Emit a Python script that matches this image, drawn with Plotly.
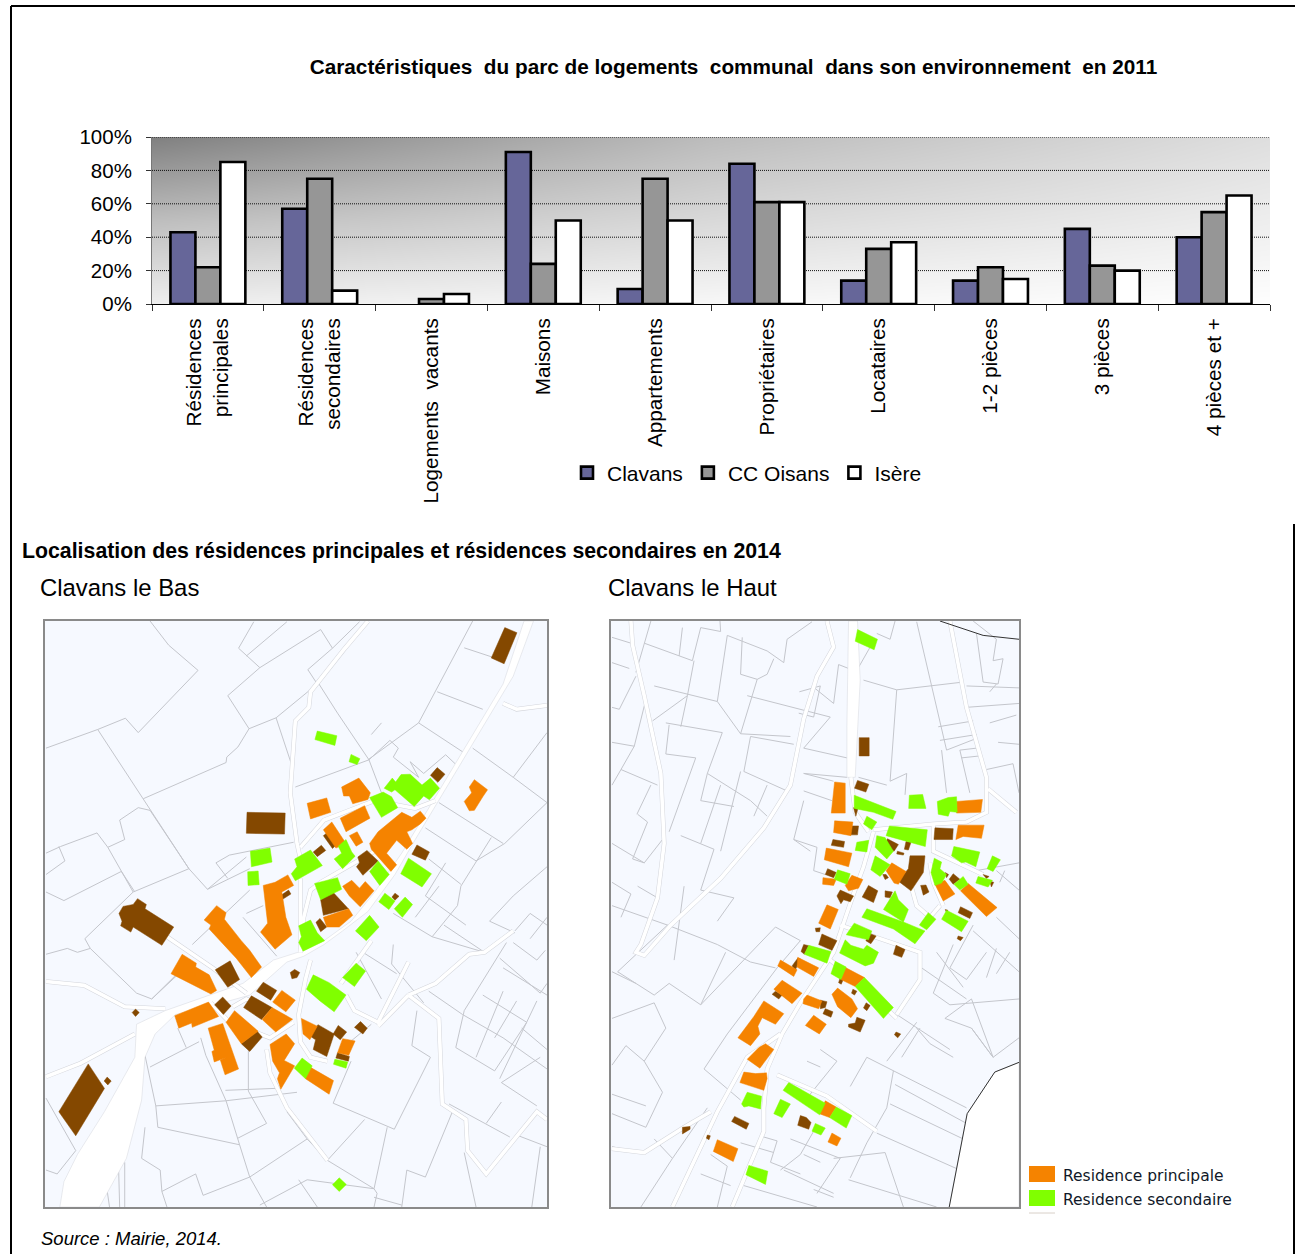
import plotly.graph_objects as go

W, H = 1301, 1254
FONT = "Liberation Sans"

# ---------- bar chart data ----------
categories = ["Résidences<br>principales", "Résidences<br>secondaires", "Logements  vacants", "Maisons",
              "Appartements", "Propriétaires", "Locataires", "1-2 pièces", "3 pièces", "4 pièces et +"]
clavans = [43, 57, None, 91, 9, 84, 14, 14, 45, 40]
cc_oisans = [22, 75, 3, 24, 75, 61, 33, 22, 23, 55]
isere = [85, 8, 6, 50, 50, 61, 37, 15, 20, 65]
grid_values = [20, 40, 60, 80, 100]
grad_gray = [[238, 247, 254], [190, 217, 238], [128, 188, 222]]

# ---------- map data: Clavans le Bas ----------
bas_white = [
    [[88,1535],[100,1470],[140,1400],[220,1290],[310,1150],[315,1065],[400,1030],[440,1018],[630,960],[720,900],[800,878],[870,850],[950,800],[1020,725],[1100,625],[1200,480],[1290,350],[1400,190],[1462,28],[1490,28],[1430,170],[1340,300],[1210,490],[1140,590],[1080,680],[1000,775],[925,825],[870,860],[810,890],[760,905],[650,990],[560,1012],[430,1040],[370,1090],[340,1150],[330,1260],[285,1410],[205,1535]],
]
bas_roads = [
    [[1000,28],[930,100],[830,210],[825,250],[785,285],[775,400],[770,470],[790,600],[800,640]],
    [[405,840],[540,920],[640,985]],
    [[800,690],[800,880]],
    [[830,900],[815,950],[795,1040],[800,1110],[830,1150],[880,1160]],
    [[700,1130],[710,1190],[760,1280],[880,1415]],
    [[1120,905],[1030,1060],[960,1030],[935,990]],
    [[1120,990],[1030,1070]],
    [[1120,990],[1210,1050],[1220,1270],[1290,1310],[1295,1390],[1350,1450],[1500,1290],[1530,1310]],
    [[1120,990],[1200,960],[1300,885],[1345,880],[1430,825]],
    [[47,955],[160,965],[280,1020],[400,1025]],
    [[47,1200],[150,1165],[310,1090]],
    [[1200,490],[1140,510],[1020,490],[870,540],[800,610]],
    [[1040,610],[930,665],[860,700],[830,720],[810,790],[800,880]],
    [[920,960],[1010,850]],
    [[535,1010],[590,1060],[710,1100],[780,1060]],
    [[600,1020],[640,1000],[760,1050]],
    [[1400,240],[1440,255],[1530,245]],
]
bas_parcels = [
    [[355,28],[410,90],[497,155],[320,315],[282,278],[200,307],[47,355]],
    [[200,307],[335,485],[470,665],[525,718],[640,635]],
    [[335,485],[580,392],[582,378],[615,352],[648,305],[585,220],[680,148],[617,98],[662,30]],
    [[648,305],[728,277],[850,190],[822,153],[895,98],[860,50],[680,148]],
    [[640,118],[760,30]], [[728,277],[775,400]], [[895,98],[975,30]],
    [[855,190],[910,265],[1003,385],[1040,470]],
    [[785,455],[1003,385],[1065,335],[1090,355],[1075,378],[1150,430],[1125,390],[1165,420],[1230,372],[1258,395]],
    [[1150,290],[1000,385]], [[1150,290],[1310,28]], [[1150,290],[1290,370]], [[1205,210],[1340,255]], [[1285,97],[1400,130]],
    [[1310,355],[1430,430],[1530,315]], [[1430,430],[1530,495]], [[1170,560],[1320,645],[1405,600],[1530,495]],
    [[1210,495],[1400,600]], [[1365,585],[1275,710],[1265,760],[1190,840],[1075,780]],
    [[1275,705],[1180,640]], [[1360,800],[1430,735],[1530,660]], [[1360,800],[1435,830]],
    [[1480,780],[1530,810]], [[1435,825],[1480,780]], [[1480,845],[1530,790]], [[1430,855],[1500,900],[1525,875]],
    [[1190,840],[1345,880]], [[1225,810],[1345,880]],
    [[1390,895],[1510,985],[1530,960]], [[1400,920],[1530,990]], [[1410,855],[1285,1030],[1260,1125],[1375,1185]],
    [[1180,980],[1280,1040],[1400,1100],[1530,1180]], [[1340,990],[1470,1060],[1375,1185]], [[1400,980],[1320,1150]], [[1440,1005],[1375,1100]], [[1500,1005],[1390,1205]], [[1455,1075],[1530,1130]],
    [[1395,1215],[1510,1150]], [[1395,1215],[1500,1275]], [[1240,1270],[1420,1355]], [[1395,1265],[1350,1320]], [[1530,1380],[1440,1350]], [[1510,1380],[1485,1535]],
    [[1145,1030],[1130,1120],[1185,1150],[1078,1335],[897,1268],[950,1160]],
    [[1057,1330],[1018,1488]], [[880,1415],[990,1310]], [[820,1360],[880,1415],[1018,1488],[1027,1500],[1018,1535]],
    [[1115,1440],[1170,1458],[1250,1290]], [[1115,1440],[1100,1535]], [[1285,1395],[1320,1535]], [[1018,1510],[1100,1530]],
    [[47,885],[110,870],[140,880],[178,870],[315,985],[360,1000],[470,905]],
    [[162,845],[305,725],[230,610],[280,590],[265,540],[320,508],[355,515],[470,665]],
    [[47,625],[90,608],[198,573],[230,610]], [[47,680],[103,645],[85,608]],
    [[47,725],[100,747],[270,672],[310,725]], [[305,725],[470,665]], [[162,845],[178,870]],
    [[525,718],[650,665]], [[550,650],[590,630],[780,597]], [[550,650],[585,690]], [[650,720],[480,860]],
    [[630,790],[730,890]], [[640,780],[690,760]], [[360,1000],[440,935]],
    [[355,1175],[500,1110]], [[340,1145],[372,1275],[578,1262],[790,1240]], [[437,1075],[462,1125]],
    [[372,1275],[378,1330],[620,1375],[650,1458],[820,1360],[760,1290]], [[505,1100],[520,1145],[580,1262],[620,1375]],
    [[646,1120],[646,1237],[700,1320]], [[578,1235],[725,1230]], [[700,1320],[615,1358]],
    [[650,1458],[700,1535]], [[390,1495],[490,1450],[512,1505],[650,1458]], [[340,1330],[330,1410],[385,1440],[390,1495],[405,1535]],
    [[47,1440],[80,1450],[135,1390],[47,1255]], [[220,1445],[262,1438],[265,1535]], [[220,1445],[235,1535]],
    [[280,1420],[280,1535]], [[795,1465],[850,1535]], [[820,1465],[680,1530]], [[1018,1488],[820,1465]],
    [[1010,320],[1040,290]], [[1075,860],[1070,910],[1165,1010]], [[985,880],[1085,935]], [[965,880],[1040,1000]],
    [[1230,650],[1170,735],[1290,810]], [[1140,790],[1210,710]],
    [[920,1130],[1010,1065]],
]
bas_brown = [
    [[1405,45],[1441,58],[1403,138],[1365,123]], [[642,520],[755,522],[753,576],[640,574]],
    [[263,780],[275,762],[305,757],[318,742],[344,757],[340,768],[425,815],[390,862],[305,815],[298,828],[268,812],[272,800]],
    [[172,1167],[220,1230],[135,1352],[85,1290]], [[228,1201],[240,1211],[230,1221],[219,1211]], [[312,1026],[323,1035],[312,1045],[302,1035]],
    [[1205,405],[1228,422],[1207,443],[1185,425]], [[1145,604],[1182,622],[1170,643],[1130,628]],
    [[997,618],[1030,645],[985,682],[966,660],[975,650],[970,635]], [[862,605],[875,618],[850,634],[838,622]],
    [[868,580],[880,572],[905,605],[895,613]], [[740,735],[765,720],[772,730],[745,745]],
    [[896,725],[942,768],[868,785],[860,745]], [[858,793],[878,815],[860,827],[846,803]],
    [[592,902],[620,950],[585,970],[548,925]], [[570,995],[595,1018],[572,1040],[546,1015]],
    [[690,957],[730,978],[712,1003],[670,980]], [[655,992],[716,1022],[685,1053],[632,1022]],
    [[783,924],[798,932],[790,945],[775,948],[770,932]], [[1080,728],[1092,736],[1080,746],[1071,738]],
    [[978,1058],[998,1075],[985,1090],[960,1073]], [[852,1066],[900,1090],[878,1148],[838,1130],[845,1105],[828,1095]],
    [[912,1068],[937,1085],[918,1105],[897,1090]], [[672,1083],[687,1098],[650,1135],[625,1115]],
    [[910,1138],[945,1148],[942,1160],[905,1152]],
]
bas_orange = [
    [[922,455],[973,432],[1007,470],[1000,487],[955,498],[945,478],[928,478]], [[820,497],[878,483],[890,520],[830,537]],
    [[918,535],[990,503],[1006,535],[935,570]], [[868,565],[893,545],[935,600],[905,612]], [[945,580],[968,570],[985,597],[965,607]],
    [[1100,520],[1130,533],[1155,517],[1172,535],[1155,550],[1130,565],[1115,570],[1132,600],[1115,615],[1085,592],[1055,625],[1085,655],[1068,672],[1035,640],[1010,615],[1005,600],[1030,570]],
    [[1315,436],[1354,462],[1340,480],[1315,515],[1300,516],[1285,492],[1307,470],[1300,455]],
    [[690,708],[725,700],[763,681],[780,708],[745,725],[757,790],[775,835],[725,872],[682,828],[703,805]],
    [[925,710],[952,695],[975,715],[992,698],[1018,722],[977,763],[945,735]], [[868,790],[943,768],[955,785],[915,815],[878,815]],
    [[515,797],[552,760],[580,778],[575,795],[625,850],[650,875],[685,918],[655,945],[610,895],[530,820],[535,810]],
    [[450,885],[492,908],[490,918],[530,938],[552,978],[535,987],[417,935]], [[428,1043],[528,1008],[558,1045],[480,1073],[478,1062],[440,1075]],
    [[745,978],[785,1003],[757,1033],[718,1008]], [[716,1022],[777,1052],[727,1085],[687,1053]], [[605,1030],[675,1083],[625,1115],[580,1060]],
    [[527,1075],[570,1063],[617,1180],[577,1195],[563,1157],[582,1150],[545,1162],[538,1135],[545,1132]],
    [[710,1117],[758,1090],[783,1115],[752,1158],[783,1172],[742,1232],[732,1205],[738,1190],[718,1160]],
    [[822,1172],[898,1210],[885,1245],[815,1205]], [[803,1050],[850,1070],[828,1105],[808,1090]], [[925,1102],[962,1108],[943,1145],[910,1138]],
]
bas_green = [
    [[850,311],[908,323],[902,348],[843,333]], [[950,371],[976,382],[968,397],[944,390]],
    [[1048,458],[1072,432],[1082,442],[1098,423],[1125,422],[1160,450],[1185,432],[1212,458],[1182,488],[1165,478],[1137,505],[1080,462],[1070,468]],
    [[1005,482],[1045,468],[1070,480],[1088,508],[1040,533]], [[652,620],[710,612],[716,648],[655,660]], [[644,673],[675,671],[678,706],[645,708]],
    [[783,640],[830,617],[865,657],[785,696],[773,678],[790,660]], [[912,607],[935,590],[952,622],[962,633],[925,665],[900,640],[922,625]],
    [[1030,645],[1063,680],[1035,708],[1005,672]], [[1120,638],[1188,678],[1160,712],[1097,678]], [[842,703],[910,688],[922,718],[860,745]],
    [[1050,728],[1080,748],[1062,770],[1032,750]], [[1110,738],[1132,757],[1102,790],[1078,768]], [[1005,785],[1033,815],[995,850],[963,825]],
    [[795,812],[830,797],[850,830],[872,850],[808,877],[795,855],[803,840]], [[965,908],[993,928],[960,968],[925,945]],
    [[838,938],[885,958],[935,990],[900,1033],[858,1005],[818,975]], [[805,1152],[835,1172],[815,1205],[782,1178]],
    [[902,1155],[940,1162],[935,1178],[898,1168]], [[915,1460],[936,1477],[915,1495],[895,1478]],
]

# ---------- map data: Clavans le Haut ----------
haut_white = [
    [[1258,1163],[1185,1188],[1102,1295],[1090,1350],[1048,1535],[1258,1535]],
    [[745,28],[772,28],[780,180],[765,430],[740,430],[740,300]],
]
haut_roads = [
    [[90,28],[95,90],[130,220],[180,420],[190,600],[170,740],[120,860],[105,880],[130,888],[210,810],[360,690],[490,560],[570,450],[610,280],[650,170],[700,95],[680,28]],
    [[752,430],[765,520],[805,570]],
    [[820,570],[790,660],[760,730],[700,880],[600,1010],[545,1090],[500,1180],[490,1280],[490,1340],[395,1535]],
    [[540,1090],[440,1150],[350,1290],[290,1400],[215,1535]],
    [[820,565],[1000,550],[1100,545],[1160,520],[1160,430],[1100,250],[1050,28]],
    [[1000,550],[1000,620],[1150,680]],
    [[530,1195],[680,1250],[830,1340]],
    [[33,1385],[130,1395],[250,1330],[330,1290]],
    [[990,650],[1000,700],[1030,760]], [[930,700],[950,760],[990,790],[1020,760]],
    [[690,900],[780,960],[890,1050]], [[720,810],[960,880],[960,950],[890,1040]],
    [[1165,460],[1250,520]],
]
haut_parcels = [
    [[33,760],[200,810],[350,860],[450,905],[525,920]],
    [[33,70],[90,85]], [[33,135],[85,150]], [[150,28],[130,85],[105,160]], [[130,85],[275,130],[300,45],[360,55],[358,28]], [[245,45],[235,118]],
    [[105,170],[55,255],[33,250]], [[160,195],[350,235],[380,65],[500,105],[550,135],[560,75],[635,30]],
    [[425,70],[420,165],[470,178],[500,165],[520,125]], [[350,235],[420,318],[570,325]], [[470,178],[420,318]],
    [[33,340],[100,350],[60,410],[170,450]], [[100,350],[135,230]], [[195,290],[365,315],[320,420],[450,490],[500,530]],
    [[155,285],[260,220],[280,130]], [[260,220],[240,300]], [[205,295],[195,370],[285,380],[205,570]],
    [[33,450],[60,410]], [[110,525],[140,545],[95,640],[130,650],[185,590]], [[240,580],[340,615],[300,720],[400,740],[350,800]],
    [[150,450],[108,525]], [[33,600],[130,650]], [[110,710],[170,740]], [[33,700],[90,730],[60,790]], [[300,600],[360,450]],
    [[320,420],[300,490],[400,505]], [[420,415],[360,620]], [[500,450],[460,530]], [[580,345],[450,325],[430,415],[560,465]],
    [[610,355],[740,380]], [[610,420],[740,430]], [[610,465],[695,490]], [[610,490],[580,590],[630,620]], [[635,195],[700,240],[715,140],[745,150]],
    [[597,210],[660,195],[640,275],[595,265]], [[440,220],[690,275],[610,355]], [[250,710],[220,900]],
    [[33,930],[105,960],[160,990],[205,960],[300,1015],[375,880]], [[105,960],[50,930],[200,810]],
    [[33,1050],[160,1010],[195,1075],[130,1160],[75,1120],[33,1170]], [[130,1160],[185,1240],[135,1330],[33,1295]],
    [[33,1245],[135,1275]], [[33,1380],[60,1385]], [[300,1015],[525,815],[600,850],[530,920],[380,1090],[310,1180],[420,1260]],
    [[160,1360],[215,1410],[120,1535]], [[215,1410],[320,1280]],
    [[790,180],[890,205],[1090,185]], [[950,30],[1040,360],[1130,330]], [[890,205],[870,440],[920,420],[915,475]],
    [[885,28],[870,75],[830,60]], [[810,95],[760,170]], [[1015,300],[1120,285]], [[1020,335],[1130,320]], [[1025,360],[1040,470]],
    [[1130,355],[1080,360],[1110,470]], [[1085,380],[1140,375]], [[1160,410],[1240,395],[1258,470]], [[1120,28],[1190,75],[1180,130],[1210,125],[1195,190],[1150,185],[1130,60]],
    [[1100,250],[1258,240]], [[1100,195],[1258,200]], [[1195,340],[1258,345]], [[1170,210],[1190,190]], [[1170,290],[1250,270]],
    [[775,430],[860,450]], [[700,440],[610,420]], [[580,590],[650,610],[640,670],[675,680]],
    [[1130,670],[1258,650]], [[1190,670],[1258,720]], [[1215,670],[1200,700]], [[1190,790],[1258,845]],
    [[1120,810],[1050,920],[1100,950],[1160,880]], [[1120,825],[1258,930]], [[1010,880],[1090,970]], [[1060,860],[1000,985]], [[1190,870],[1160,945]], [[1230,880],[1190,935]],
    [[1000,985],[1050,1015],[1258,1000]], [[1035,1050],[1115,1000],[1180,1150],[1115,1075],[1035,1050]], [[1115,1075],[1180,1150],[1258,1100]],
    [[965,920],[1100,1000]], [[890,1040],[1050,1130]], [[950,1075],[990,1115],[1060,1150]], [[905,1150],[960,1075]],
    [[800,1150],[1100,1280]], [[885,1220],[1100,1320]], [[870,1270],[1090,1360]], [[830,1345],[1080,1440]], [[880,1185],[860,1280],[800,1370],[750,1460]],
    [[700,1410],[855,1395],[910,1535]], [[800,1150],[750,1225]], [[660,1130],[710,1160],[620,1255]], [[620,1160],[660,1175]],
    [[640,1340],[600,1400],[540,1440]], [[570,1360],[720,1410],[650,1500]], [[610,1400],[660,1420]], [[550,1440],[700,1500]],
    [[490,1355],[530,1365],[510,1420],[600,1450]], [[420,1370],[520,1395]], [[330,1400],[380,1430],[350,1535]], [[300,1450],[390,1480]],
    [[430,1480],[650,1535]], [[640,1490],[700,1510]], [[745,1465],[1010,1535]], [[950,1060],[860,1160]],
]
haut_black = [
    [[1020,28],[1070,42],[1150,65],[1258,75]],
    [[1258,1163],[1185,1188],[1102,1295],[1090,1350],[1048,1535]],
]
haut_brown = [
    [[777,328],[807,328],[807,375],[777,375]], [[772,438],[806,448],[797,468],[763,458]], [[760,508],[773,510],[767,530]], [[752,555],[775,555],[772,578],[750,578]],
    [[1005,560],[1060,562],[1058,590],[1002,590]], [[698,590],[733,595],[730,610],[693,605]], [[862,588],[895,603],[882,620],[855,605]], [[918,595],[933,597],[925,617],[913,615]],
    [[892,620],[912,625],[910,630],[890,627]], [[930,632],[975,632],[970,675],[933,722],[895,697],[925,665]], [[682,665],[708,675],[700,688],[675,680]], [[848,680],[858,680],[865,688],[855,693]],
    [[962,708],[978,707],[987,725],[970,733]], [[1060,678],[1080,692],[1060,705],[1048,692]], [[1036,675],[1046,680],[1040,688]], [[1150,680],[1168,685],[1160,690]],
    [[1170,697],[1182,700],[1175,712]], [[805,708],[833,722],[820,752],[786,738]], [[855,722],[877,725],[870,740],[855,738]], [[720,720],[760,735],[750,750],[730,745],[722,755],[710,735]],
    [[1082,763],[1118,778],[1110,793],[1075,778]], [[1036,770],[1044,772],[1040,778]], [[1075,838],[1090,842],[1082,850],[1072,845]], [[645,818],[660,817],[658,827],[647,827]],
    [[665,833],[710,850],[695,875],[655,860]], [[810,832],[828,838],[812,858],[797,850]], [[610,860],[625,863],[612,885],[602,878]], [[888,862],[915,873],[905,893],[880,885]],
    [[592,895],[600,897],[585,925],[575,915]], [[720,945],[730,948],[723,962],[715,958]], [[525,980],[545,990],[535,1000],[515,988]], [[660,1003],[680,1007],[675,1022],[660,1025]],
    [[758,975],[770,980],[763,990],[754,985]], [[798,1010],[810,1017],[800,1030],[790,1023]], [[675,1025],[698,1033],[692,1047],[668,1038]], [[770,1047],[795,1055],[780,1085],[745,1072],[745,1065],[765,1062]],
    [[888,1085],[902,1090],[893,1100],[883,1092]], [[402,1302],[445,1320],[437,1335],[393,1315]], [[600,1300],[618,1305],[632,1318],[625,1335],[592,1325]], [[245,1330],[268,1328],[268,1335],[245,1347]],
    [[320,1350],[329,1352],[325,1362],[317,1358]],
]
haut_orange = [
    [[703,442],[735,445],[735,522],[693,522]], [[703,542],[758,545],[752,580],[700,572]], [[1070,492],[1148,487],[1143,520],[1070,522]], [[1075,553],[1153,553],[1145,587],[1090,582],[1068,590]],
    [[678,612],[755,625],[745,660],[672,642]], [[858,670],[875,650],[918,672],[895,705],[882,702]], [[755,682],[788,693],[775,715],[745,722],[735,708]], [[668,688],[708,692],[700,708],[667,705]],
    [[1035,695],[1065,730],[1030,748],[1005,705]], [[1105,703],[1192,765],[1160,788],[1082,722]], [[680,758],[714,770],[690,820],[655,805]], [[592,893],[655,920],[640,942],[590,918]],
    [[540,900],[590,925],[580,942],[532,915]], [[733,918],[793,945],[765,968],[722,950]], [[545,952],[605,985],[575,1012],[520,975]], [[610,1000],[620,990],[665,1005],[655,1025],[608,1012]],
    [[712,972],[755,1000],[772,1025],[752,1048],[712,1020],[695,988]], [[640,1042],[678,1065],[657,1090],[615,1068]],
    [[490,1005],[550,1038],[525,1065],[485,1048],[472,1070],[478,1090],[450,1120],[412,1100],[460,1045]], [[495,1115],[520,1130],[478,1178],[440,1155],[475,1125]],
    [[430,1188],[465,1192],[498,1190],[500,1205],[490,1235],[418,1215]], [[675,1262],[708,1278],[688,1305],[657,1295]], [[350,1362],[412,1385],[398,1418],[338,1392]], [[695,1345],[722,1358],[710,1378],[683,1368]],
]
haut_green = [
    [[772,50],[832,75],[822,102],[765,80]], [[762,476],[852,505],[888,518],[878,538],[840,525],[820,520],[762,510]], [[928,476],[968,474],[978,510],[926,510]],
    [[1012,492],[1045,482],[1070,480],[1072,520],[1050,518],[1045,530],[1015,525]], [[800,530],[830,545],[815,565],[790,550]], [[868,555],[982,565],[976,608],[858,580]],
    [[770,597],[806,592],[800,622],[765,618]], [[830,580],[855,585],[880,620],[860,640],[825,610]], [[825,632],[870,655],[840,685],[812,668]], [[1062,608],[1140,622],[1128,660],[1098,648],[1085,650],[1055,632]],
    [[1178,632],[1202,642],[1180,672],[1162,665]], [[1003,638],[1025,648],[1020,665],[1040,680],[1025,702],[1005,708],[993,675]], [[1090,685],[1105,705],[1080,720],[1062,705]], [[1135,685],[1178,695],[1165,712],[1128,702]],
    [[712,668],[750,678],[740,705],[702,692]], [[885,722],[895,745],[925,770],[910,802],[850,770]], [[800,768],[910,802],[975,825],[945,858],[880,820],[785,790]], [[985,778],[1008,795],[980,822],[958,810]],
    [[1040,772],[1105,800],[1085,827],[1025,795]], [[762,805],[815,825],[805,848],[738,835]], [[625,862],[692,878],[680,908],[612,885]], [[735,848],[752,862],[790,872],[800,862],[835,880],[820,908],[795,915],[718,882]],
    [[705,903],[738,918],[722,950],[692,935]], [[793,945],[880,1022],[850,1050],[765,968]], [[565,1215],[675,1268],[658,1298],[548,1235]], [[708,1278],[755,1300],[738,1332],[688,1305]],
    [[540,1258],[570,1270],[545,1305],[520,1295]], [[440,1240],[483,1250],[480,1283],[445,1275],[430,1278],[423,1270]], [[645,1320],[675,1332],[662,1350],[635,1340]], [[445,1428],[502,1443],[495,1477],[475,1468],[436,1452]],
]

def flat(polys, close=False):
    xs, ys = [], []
    for p in polys:
        pts = p + [p[0]] if close else p
        xs += [q[0] for q in pts] + [None]
        ys += [q[1] for q in pts] + [None]
    return xs, ys

def fx(a, b): return [a / W, b / W]
def fy(a, b): return [1 - b / H, 1 - a / H]

fig = go.Figure()

# gradient background + dotted grid on the under-laid axes
fig.add_trace(go.Heatmap(z=grad_gray, x=[-0.5, 4.5, 9.5], y=[0, 50, 100], zmin=0, zmax=255,
                         colorscale=[[0, "#000000"], [1, "#ffffff"]], showscale=False, zsmooth="best",
                         hoverinfo="skip", xaxis="x", yaxis="y"))
for g in grid_values:
    fig.add_trace(go.Scatter(x=[-0.5, 9.5], y=[g, g], mode="lines", showlegend=False, hoverinfo="skip",
                             line=dict(color="#111111", width=1, dash="1px,1px"), xaxis="x", yaxis="y"))

# bars
for name, vals, col in [("Clavans", clavans, "#666699"), ("CC Oisans", cc_oisans, "#969696"), ("Isère", isere, "#ffffff")]:
    fig.add_trace(go.Bar(x=categories, y=vals, name=name, xaxis="x2", yaxis="y2",
                         marker=dict(color=col, line=dict(color="#000000", width=2.6))))

C = dict(orange="#f58300", green="#80ff00", brown="#844800")

def add_map(xa, ya, white, roads, parcels, brown, orange, green, black=None):
    x, y = flat(parcels)
    fig.add_trace(go.Scatter(x=x, y=y, mode="lines", line=dict(color="#c4c6cc", width=1), hoverinfo="skip",
                             showlegend=False, xaxis=xa, yaxis=ya))
    x, y = flat(white, True)
    fig.add_trace(go.Scatter(x=x, y=y, mode="lines", fill="toself", fillcolor="#ffffff", line=dict(color="#d5d7dc", width=0.5),
                             hoverinfo="skip", showlegend=False, xaxis=xa, yaxis=ya))
    x, y = flat(roads)
    fig.add_trace(go.Scatter(x=x, y=y, mode="lines", line=dict(color="#d4d6dc", width=4.6), hoverinfo="skip",
                             showlegend=False, xaxis=xa, yaxis=ya))
    fig.add_trace(go.Scatter(x=x, y=y, mode="lines", line=dict(color="#ffffff", width=3.6), hoverinfo="skip",
                             showlegend=False, xaxis=xa, yaxis=ya))
    if black:
        x, y = flat(black)
        fig.add_trace(go.Scatter(x=x, y=y, mode="lines", line=dict(color="#333333", width=1), hoverinfo="skip",
                                 showlegend=False, xaxis=xa, yaxis=ya))
    for polys, key in [(brown, "brown"), (orange, "orange"), (green, "green")]:
        x, y = flat(polys, True)
        fig.add_trace(go.Scatter(x=x, y=y, mode="lines", fill="toself", fillcolor=C[key], line=dict(color=C[key], width=0.5),
                                 hoverinfo="skip", showlegend=False, xaxis=xa, yaxis=ya))

add_map("x3", "y3", bas_white, bas_roads, bas_parcels, bas_brown, bas_orange, bas_green)
add_map("x4", "y4", haut_white, haut_roads, haut_parcels, haut_brown, haut_orange, haut_green, haut_black)

map_axis = dict(showticklabels=False, ticks="", showgrid=False, zeroline=False, showline=True, mirror=True,
                linecolor="#8a8a8a", linewidth=2)

shapes = []
for a in ("x3", "x4"):
    shapes.append(dict(type="rect", xref=f"{a} domain", yref=f"y{a[1]} domain", x0=0, x1=1, y0=0, y1=1,
                       fillcolor="#f6f9ff", line=dict(width=0), layer="below"))
# page frame
for x0, y0, x1, y1 in [(11, 6, 1295, 6), (11, 6, 11, 1254), (1294, 524, 1294, 1254)]:
    shapes.append(dict(type="line", xref="paper", yref="paper", x0=x0 / W, x1=x1 / W, y0=1 - y0 / H, y1=1 - y1 / H,
                       line=dict(color="#000000", width=2)))
# map legend swatches
for y0, y1, c in [(1166, 1182, C["orange"]), (1190, 1206, C["green"])]:
    shapes.append(dict(type="rect", xref="paper", yref="paper", x0=1029 / W, x1=1055 / W, y0=1 - y1 / H, y1=1 - y0 / H,
                       fillcolor=c, line=dict(width=0)))
shapes.append(dict(type="line", xref="paper", yref="paper", x0=1029 / W, x1=1055 / W, y0=1 - 1213 / H, y1=1 - 1213 / H,
                   line=dict(color="#d8d0c8", width=1)))

def note(txt, x, y, size, family=FONT, color="#000000"):
    return dict(text=txt, xref="paper", yref="paper", x=x / W, y=1 - y / H, xanchor="left", yanchor="middle",
                showarrow=False, font=dict(size=size, family=family, color=color))

annotations = [
    note("<b>Localisation des résidences principales et résidences secondaires en 2014</b>", 20, 551, 21.3),
    note("Clavans le Bas", 38, 587, 23.9),
    note("Clavans le Haut", 606, 587, 23.9),
    note("Residence principale", 1061, 1176, 15.5, "DejaVu Sans", "#101828"),
    note("Residence secondaire", 1061, 1200, 15.5, "DejaVu Sans", "#101828"),
    note("<i>Source : Mairie, 2014.</i>", 39, 1238, 18.5),
]

fig.update_layout(
    width=W, height=H, autosize=False, margin=dict(l=0, r=0, t=0, b=0),
    paper_bgcolor="#ffffff", plot_bgcolor="rgba(0,0,0,0)",
    font=dict(family=FONT, color="#000000"),
    title=dict(text="<b>Caractéristiques  du parc de logements  communal  dans son environnement  en 2011</b>",
               x=733.5 / W, xanchor="center", y=1 - 67 / H, yanchor="middle", font=dict(size=20.75, family=FONT)),
    barmode="group", bargap=0.33, bargroupgap=0,
    shapes=shapes, annotations=annotations,
    legend=dict(orientation="h", x=567 / W, xanchor="left", y=1 - 473 / H, yanchor="middle", font=dict(size=21, family=FONT),
                bgcolor="rgba(0,0,0,0)", tracegroupgap=0, itemclick=False, itemdoubleclick=False),
    xaxis=dict(domain=fx(152, 1270), range=[-0.5, 9.5], visible=False),
    yaxis=dict(domain=fy(137, 304), range=[0, 100], visible=False),
    xaxis2=dict(domain=fx(152, 1270), anchor="y2", overlaying="x", type="category", tickson="boundaries", ticks="outside", ticklen=6,
                tickcolor="#333333", tickangle=-90, tickfont=dict(size=20.7, family=FONT), showline=True, linecolor="#000000", linewidth=1,
                showgrid=False, automargin=False, range=[-0.5, 9.5], ticklabelstandoff=5),
    yaxis2=dict(domain=fy(137, 304), anchor="x2", overlaying="y", range=[0, 100], dtick=20, ticksuffix="%", ticks="outside", ticklen=5,
                tickcolor="#333333", tickfont=dict(size=20.5, family=FONT), showgrid=False, zeroline=False, showline=True, linecolor="#777777", linewidth=1, automargin=False,
                ticklabelstandoff=10),
    xaxis3=dict(domain=fx(45, 547), range=[44, 1530], anchor="y3", **map_axis),
    yaxis3=dict(domain=fy(621, 1207), range=[1535, 28], anchor="x3", **map_axis),
    xaxis4=dict(domain=fx(611, 1019), range=[30, 1258], anchor="y4", **map_axis),
    yaxis4=dict(domain=fy(621, 1207), range=[1535, 28], anchor="x4", **map_axis),
)

fig.write_html("out.html", post_script="document.body.style.margin='0';", config=dict(displayModeBar=False))
